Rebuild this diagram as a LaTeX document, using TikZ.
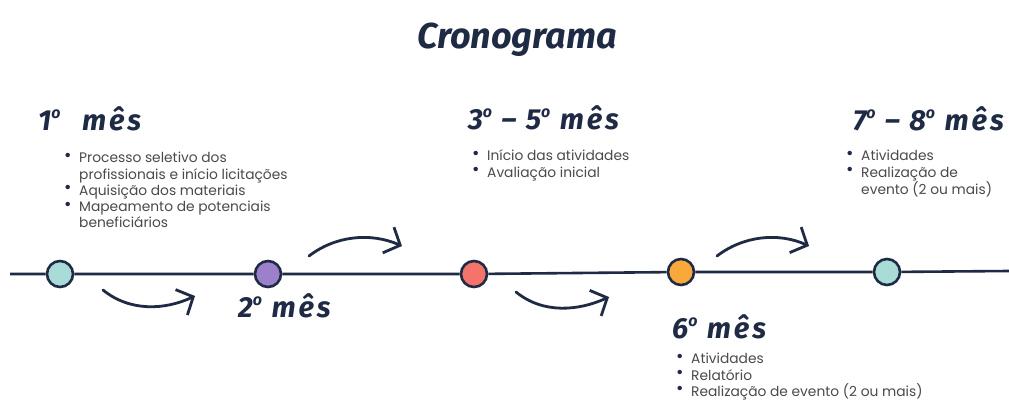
\documentclass[tikz,border=0pt]{standalone}
\usepackage{fontspec}
\setmainfont{Poppins}
\newfontfamily\handfont{Fira Sans}
\newfontfamily\headfont{Fira Sans}[LetterSpace=10]
\usetikzlibrary{arrows.meta}
\definecolor{navy}{HTML}{1F2A44}
\definecolor{txtgray}{HTML}{4A4A4A}
\definecolor{cteal}{HTML}{A9DCD8}
\definecolor{cpurple}{HTML}{9C80C9}
\definecolor{cred}{HTML}{F4736B}
\definecolor{corange}{HTML}{F9A93B}
\newcommand{\bitem}[1]{\makebox[15pt][l]{\raisebox{1.5pt}{\textcolor{navy}{\fontsize{18}{16}\selectfont•}}}#1}
\newcommand{\bcont}[1]{\hspace*{15pt}#1}
\newcommand{\ordo}{\raisebox{0.42em}{\fontsize{16}{16}\selectfont o}}
\tikzset{
  dot/.style={circle, draw=navy, line width=2.6pt, minimum size=26pt, inner sep=0pt},
  tline/.style={draw=navy, line width=2.6pt},
  flowarrow/.style={draw=navy, line width=2.8pt, line cap=round, -{Straight Barb[length=13pt,width=28pt,line width=2.8pt]}},
  heading/.style={text=navy, font=\headfont\bfseries\itshape\fontsize{29}{32}\selectfont, inner sep=0pt, anchor=west},
  blist/.style={text=txtgray, font=\fontsize{13.8}{16.3}\selectfont, align=left, inner sep=0pt, anchor=north west},
}
\begin{document}
\begin{tikzpicture}[x=1pt,y=-1pt]
\useasboundingbox[fill=white] (0,0) rectangle (1009,401);
\node[text=navy, font=\handfont\bfseries\itshape\fontsize{36}{40}\selectfont, inner sep=0pt] (title) at (517,40) {Cronograma};

\coordinate (start) at (10,274);
\coordinate (finish) at (1009,271);
\node[dot, fill=cteal] (c1) at (60,274) {};
\node[dot, fill=cpurple] (c2) at (268,274) {};
\node[dot, fill=cred] (c3) at (474,274) {};
\node[dot, fill=corange] (c4) at (681,272) {};
\node[dot, fill=cteal] (c5) at (887,272) {};
\draw[tline] (start) -- (c1) (c1) -- (c2) (c2) -- (c3) (c3) -- (c4) (c4) -- (c5) (c5) -- (finish);

\coordinate (a1s) at (103,290); \coordinate (a1e) at (195,296);
\coordinate (a2s) at (309,256); \coordinate (a2e) at (402,246);
\coordinate (a3s) at (516,292); \coordinate (a3e) at (609,297);
\coordinate (a4s) at (717,256); \coordinate (a4e) at (809,246);
\draw[flowarrow] (a1s) .. controls (130,312) and (165,310) .. (a1e);
\draw[flowarrow] (a2s) .. controls (335,236) and (370,232) .. (a2e);
\draw[flowarrow] (a3s) .. controls (543,314) and (578,311) .. (a3e);
\draw[flowarrow] (a4s) .. controls (743,236) and (778,232) .. (a4e);

\node[heading] (h1) at (38,119) {1\ordo{}\hspace{12pt} mês};
\node[blist] (l1) at (64,152) {\bitem{Processo seletivo dos}\\ \bcont{profissionais e início licitações}\\ \bitem{Aquisição dos materiais}\\ \bitem{Mapeamento de potenciais}\\ \bcont{beneficiários}};

\node[heading] (h2) at (238,306) {2\ordo{} mês};

\node[heading] (h3) at (468,118) {3\ordo{} – 5\ordo{} mês};
\node[blist] (l3) at (472,150) {\bitem{Início das atividades}\\ \bitem{Avaliação inicial}};

\node[heading] (h6) at (672,327) {6\ordo{} mês};
\node[blist] (l6) at (676,353) {\bitem{Atividades}\\ \bitem{Relatório}\\ \bitem{Realização de evento (2 ou mais)}};

\node[heading] (h7) at (853,119) {7\ordo{} – 8\ordo{} mês};
\node[blist] (l7) at (846,150) {\bitem{Atividades}\\ \bitem{Realização de}\\ \bcont{evento (2 ou mais)}};
\end{tikzpicture}
\end{document}
